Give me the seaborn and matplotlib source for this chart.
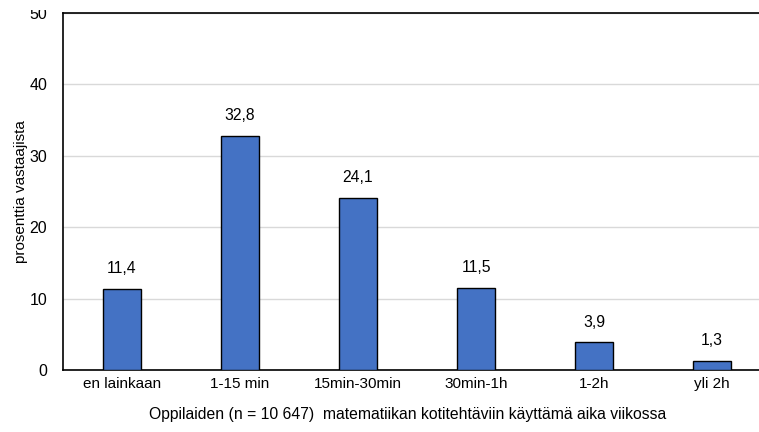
import matplotlib
matplotlib.use("Agg")
import matplotlib.pyplot as plt
import seaborn as sns
import pandas as pd
from matplotlib.patches import Rectangle

categories = ["en lainkaan", "1-15 min", "15min-30min", "30min-1h", "1-2h", "yli 2h"]
values = [11.4, 32.8, 24.1, 11.5, 3.9, 1.3]
y_ticks = [0, 10, 20, 30, 40, 50]

sns.set_style("white")
plt.rcParams["font.family"] = ["Liberation Sans", "DejaVu Sans"]
plt.rcParams["text.color"] = "black"
plt.rcParams["axes.labelcolor"] = "black"
plt.rcParams["xtick.color"] = "black"
plt.rcParams["ytick.color"] = "black"

df = pd.DataFrame({"aika": categories, "osuus": values})

fig = plt.figure(figsize=(7.59, 4.32), dpi=100)
ax = fig.add_axes([63 / 759, 62 / 432, 708 / 759, 357 / 432])

sns.barplot(data=df, x="aika", y="osuus", color="#4472C4", width=0.32,
            edgecolor="black", linewidth=1.0, saturation=1, ax=ax, zorder=3)

ax.set_ylim(0, 50)
ax.set_xlim(-0.5, len(categories) - 0.5)
ax.set_yticks(y_ticks)
ax.yaxis.grid(True, color="#D9D9D9", linewidth=1.0, zorder=0)
ax.set_axisbelow(True)

for spine in ["left", "bottom", "top"]:
    ax.spines[spine].set_color("black")
    ax.spines[spine].set_linewidth(1.2)
ax.spines["right"].set_visible(False)

ax.tick_params(axis="y", length=0, pad=11.5, labelsize=11.5)
ax.tick_params(axis="x", length=0, pad=5, labelsize=11)

for i, v in enumerate(values):
    ax.annotate(f"{v:.1f}".replace(".", ","), (i, v), xytext=(0, 9),
                textcoords="offset points", ha="center", va="bottom", fontsize=11.3)

ax.set_ylabel("prosenttia vastaajista", fontsize=11, labelpad=1)
ax.set_xlabel("Oppilaiden (n = 10 647)  matematiikan kotitehtäviin käyttämä aika viikossa",
              fontsize=11.3)
ax.xaxis.set_label_coords(0.4866, -0.104)

# the figure's top edge trims the uppermost tick label
fig.patches.append(Rectangle((0, 1 - 10 / 432), 60 / 759, 10 / 432,
                             transform=fig.transFigure, facecolor="white",
                             edgecolor="none", zorder=10))

fig.savefig("out.png", dpi=100)
